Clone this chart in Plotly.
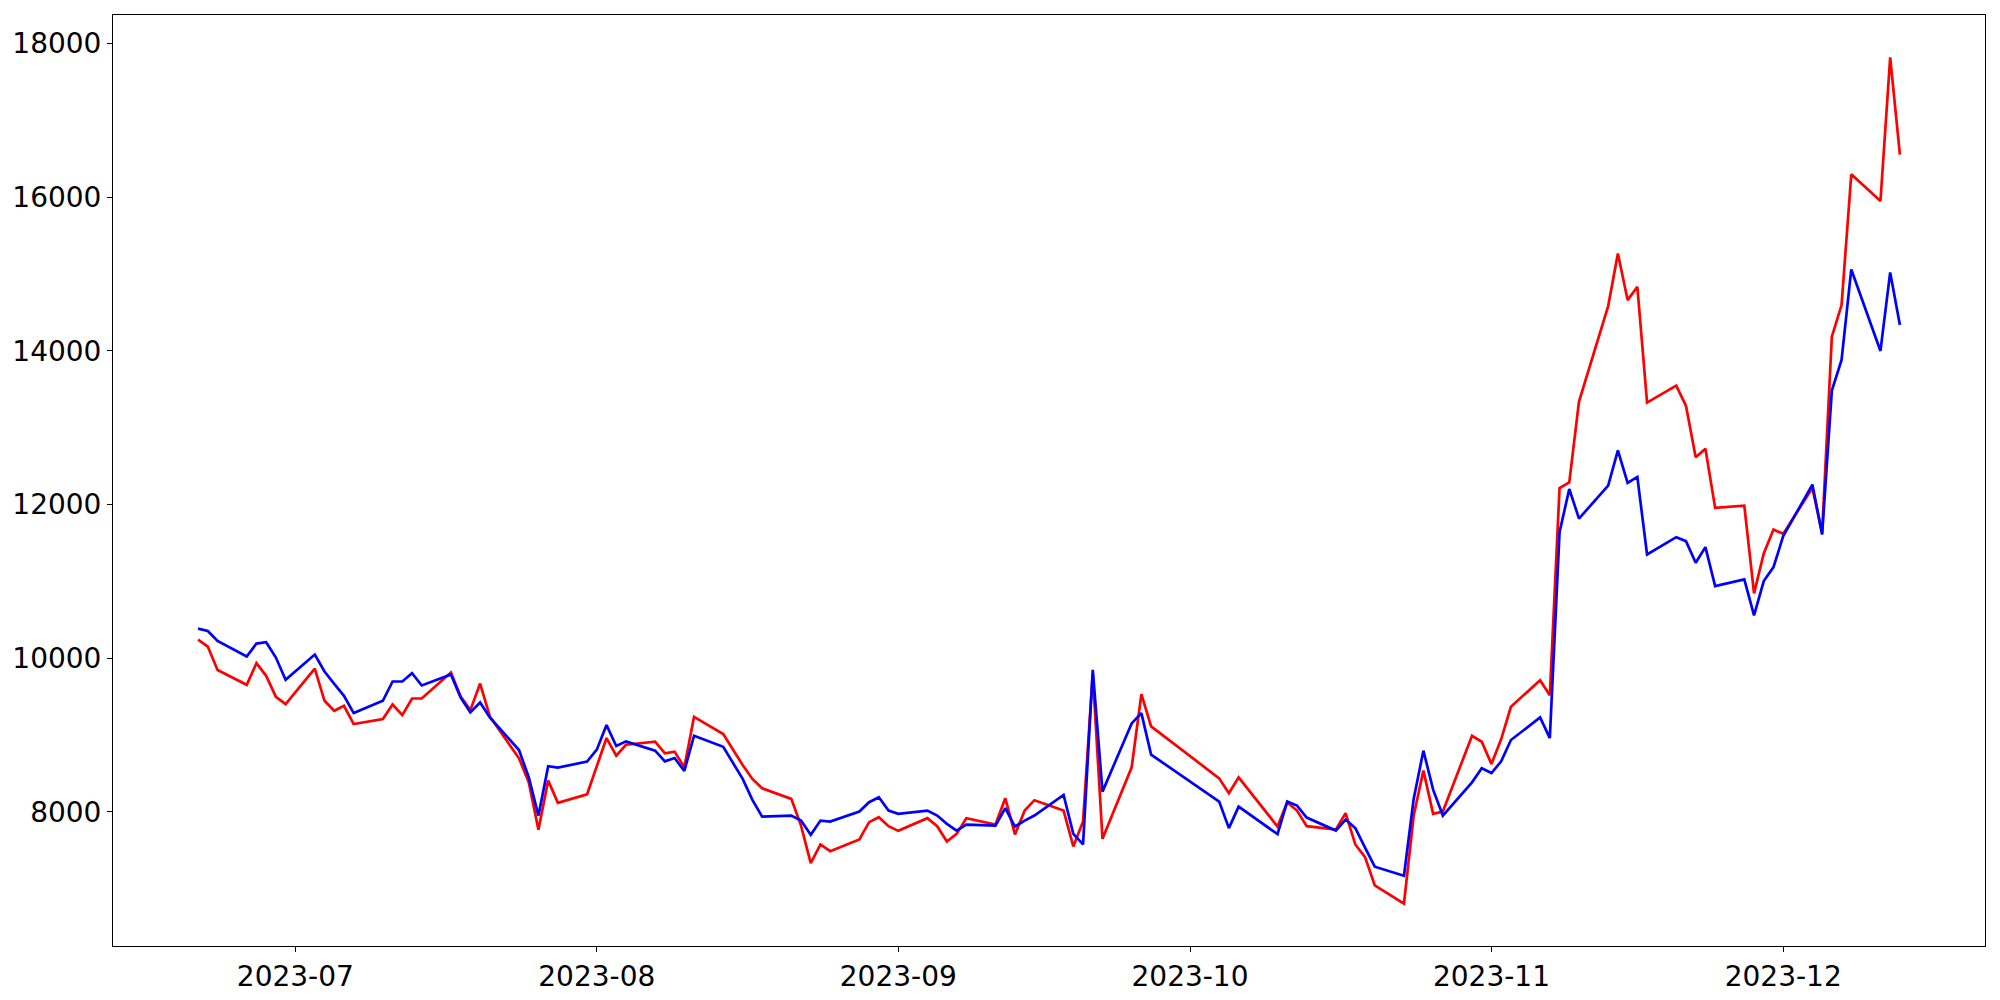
import pandas as pd
import plotly.graph_objects as go

# Trading days (Korean exchange calendar: weekends and holidays skipped)
holidays = ["2023-08-15", "2023-09-28", "2023-09-29", "2023-10-02", "2023-10-03", "2023-10-09"]
dates = [d for d in pd.bdate_range("2023-06-21", "2023-12-13") if d.strftime("%Y-%m-%d") not in holidays]

red_values = [
    # June
    10243, 10152, 9848, 9654, 9935, 9771, 9498, 9403,
    # July
    9866, 9446, 9316, 9381, 9143, 9208, 9398, 9260, 9476, 9476, 9814, 9502, 9325, 9671, 9242,
    8697, 8385, 7766, 8407, 8117, 8229,
    # August
    8597, 8961, 8732, 8874, 8913, 8762, 8784, 8580, 9238, 9013, 8610, 8429, 8307, 8169, 7822,
    7334, 7576, 7489, 7641, 7866, 7931, 7814,
    # September
    7753, 7918, 7814, 7615, 7714, 7918, 7835, 8178, 7706, 8017, 8152, 8017, 7550, 7874, 9800,
    7649, 8580, 9532, 9113,
    # October
    8437, 8242, 8450, 7809, 8126, 8017, 7814, 7770, 7983, 7576, 7411, 7043, 6805, 7952, 8537,
    7974, 8004, 8991, 8913,
    # November
    8623, 8948, 9368, 9714, 9519, 12216, 12289, 13341, 14584, 15268, 14662, 14835, 13328, 13549,
    13286, 12615, 12727, 11957, 11987, 10844, 11364, 11675,
    # December
    11619, 12216, 11632, 14186, 14597, 16299, 15952, 17822, 16554,
]

blue_values = [
    # June
    10386, 10355, 10225, 10022, 10191, 10208, 10009, 9719,
    # July
    10048, 9827, 9667, 9511, 9286, 9446, 9697, 9697, 9805, 9645, 9788, 9489, 9294, 9424, 9229,
    8805, 8451, 7952, 8594, 8576, 8654,
    # August
    8810, 9130, 8857, 8918, 8797, 8658, 8701, 8532, 8991, 8848, 8429, 8156, 7939, 7952, 7887,
    7701, 7887, 7874, 8004, 8126, 8191, 8017,
    # September
    7974, 8017, 7952, 7844, 7757, 7835, 7822, 8048, 7809, 7887, 7952, 8221, 7714, 7576, 9848,
    8264, 9152, 9286, 8745,
    # October
    8134, 7788, 8069, 7710, 8134, 8082, 7926, 7757, 7900, 7788, 7536, 7286, 7169, 8169, 8797,
    8290, 7952, 8385, 8567,
    # November
    8506, 8658, 8935, 9229, 8961, 11640, 12203, 11818, 12247, 12706, 12282, 12360, 11351, 11576,
    11524, 11243, 11446, 10939, 11026, 10558, 11004, 11186,
    # December
    11589, 12260, 11610, 13484, 13883, 15061, 14000, 15022, 14338,
]

y_ticks = [8000, 10000, 12000, 14000, 16000, 18000]

fig = go.Figure()
fig.add_trace(go.Scatter(x=dates, y=red_values, mode="lines",
                         line=dict(color="red", width=2.7), showlegend=False))
fig.add_trace(go.Scatter(x=dates, y=blue_values, mode="lines",
                         line=dict(color="blue", width=2.7), showlegend=False))

# matplotlib-like 5% margins
x0, x1 = dates[0], dates[-1]
xpad = (x1 - x0) * 0.05
all_vals = red_values + blue_values
ymin, ymax = min(all_vals), max(all_vals)
ypad = (ymax - ymin) * 0.05

axis_common = dict(
    showline=True, mirror=True, linecolor="black", linewidth=1,
    showgrid=False, zeroline=False, automargin=False,
    ticks="outside", ticklen=5, tickwidth=1, tickcolor="black",
    tickfont=dict(family="DejaVu Sans", size=28, color="black"),
)

# margins compensate for the page's default 8px body offset
fig.update_layout(
    width=2000, height=1000,
    margin=dict(l=105, r=23, t=7, b=62),
    paper_bgcolor="white", plot_bgcolor="white",
    xaxis=dict(range=[x0 - xpad, x1 + xpad], tickformat="%Y-%m",
               dtick="M1", tick0="2023-07-01", **axis_common),
    yaxis=dict(range=[ymin - ypad, ymax + ypad], tickvals=y_ticks,
               ticktext=[str(v) for v in y_ticks], **axis_common),
)

fig.write_html("out.html")
